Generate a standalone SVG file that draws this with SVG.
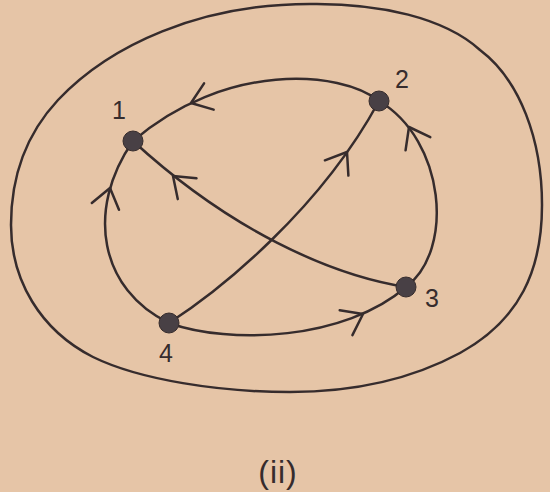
<svg xmlns="http://www.w3.org/2000/svg" width="550" height="492" viewBox="0 0 550 492">
  <style>
    .ln{fill:none;stroke:#362c2d;stroke-width:2.5;stroke-linecap:round;stroke-linejoin:round}
    .node{fill:#484045;stroke:#362c2d;stroke-width:1}
    .lbl{font-family:"Liberation Sans","DejaVu Sans",sans-serif;font-size:25px;fill:#362c2d;text-anchor:middle}
  </style>
  <defs>
    <path id="chev" class="ln" d="M-19,-14 L0,0 L-19,14"/>
  </defs>
  <rect width="550" height="492" fill="#e6c5a7"/>
  <g id="outer">
    <path class="ln" d="M310,4 C380,3 445,18 480,50 C520,80 542,140 542,205 C542,270 520,320 460,353 C410,380 350,392 290,392 C220,392 140,380 93,357 C40,330 11,280 11,225 C11,170 30,130 58,100 C110,45 200,4 310,4 Z"/>
  </g>
  <g id="connectors">
    <path id="e2-1" class="ln" d="M379,101 C340,70 225,62 133,141"/>
    <path id="e3-2" class="ln" d="M406,287 C455,250 445,140 379,101"/>
    <path id="e3-1" class="ln" d="M406,287 C330,275 230,230 133,141"/>
    <path id="e4-2" class="ln" d="M169,323 C220,290 320,210 379,101"/>
    <path id="e4-1" class="ln" d="M169,323 C100,290 85,210 133,141"/>
    <path id="e4-3" class="ln" d="M169,323 C230,345 345,340 406,287"/>
    <use href="#chev" transform="translate(191,103) rotate(160)"/>
    <use href="#chev" transform="translate(409,127) rotate(242)"/>
    <use href="#chev" transform="translate(173,176) rotate(222)"/>
    <use href="#chev" transform="translate(347,152) rotate(-57)"/>
    <use href="#chev" transform="translate(110,188) rotate(-76)"/>
    <use href="#chev" transform="translate(363,314) rotate(-27)"/>
  </g>
  <g id="n1"><circle class="node" cx="133" cy="141" r="10"/><text class="lbl" x="119" y="119">1</text></g>
  <g id="n2"><circle class="node" cx="379" cy="101" r="10"/><text class="lbl" x="402" y="88">2</text></g>
  <g id="n3"><circle class="node" cx="406" cy="287" r="10"/><text class="lbl" x="432" y="307">3</text></g>
  <g id="n4"><circle class="node" cx="169" cy="323" r="10"/><text class="lbl" x="166" y="362">4</text></g>
  <text class="lbl" x="278" y="483" style="font-size:32px;letter-spacing:1px">(ii)</text>
</svg>
